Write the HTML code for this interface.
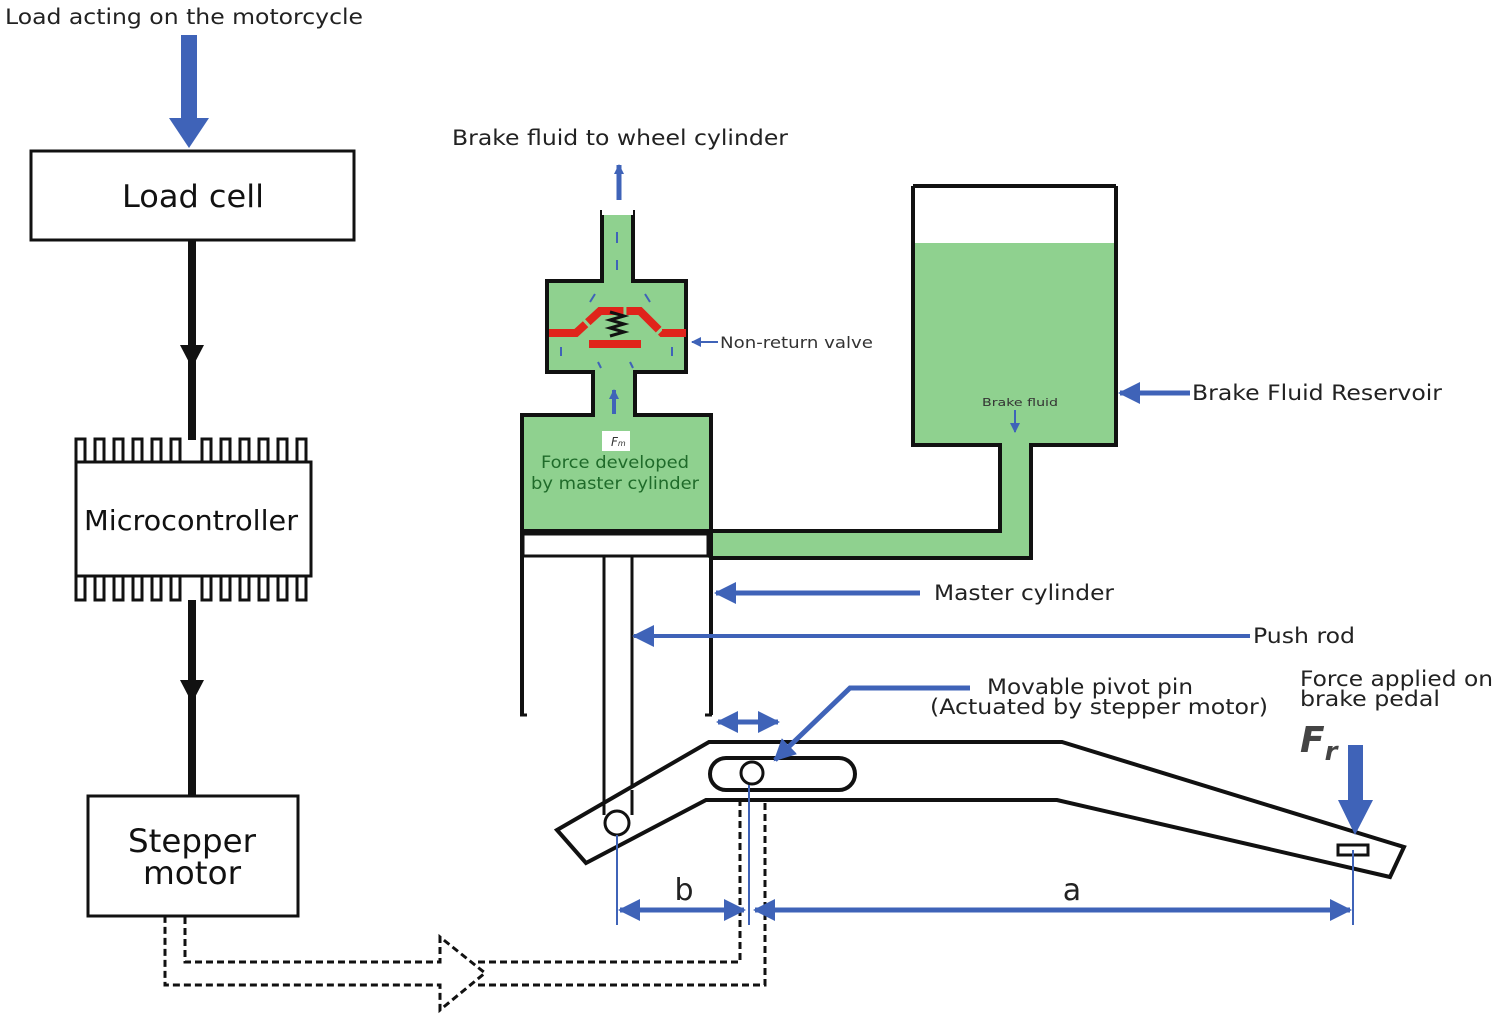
<!DOCTYPE html>
<html><head><meta charset="utf-8"><style>
html,body{margin:0;padding:0;background:#fff;}
svg{display:block;}
text{font-family:"DejaVu Sans","Liberation Sans",sans-serif;}
</style></head><body>
<svg width="1500" height="1018" viewBox="0 0 1500 1018" xmlns="http://www.w3.org/2000/svg">
<defs>
<marker id="ah" markerWidth="10" markerHeight="10" refX="9" refY="5" orient="auto" markerUnits="userSpaceOnUse"><path d="M0,0 L10,5 L0,10 z" fill="#3f63b8"/></marker>
<marker id="ahb" markerWidth="22" markerHeight="22" refX="20" refY="11" orient="auto" markerUnits="userSpaceOnUse"><path d="M0,0 L22,11 L0,22 z" fill="#3f63b8"/></marker>
<marker id="ahs" markerWidth="22" markerHeight="22" refX="2" refY="11" orient="auto" markerUnits="userSpaceOnUse"><path d="M22,0 L0,11 L22,22 z" fill="#3f63b8"/></marker>
</defs>
<!-- left column -->
<text x="5" y="24" font-size="21" fill="#222" textLength="358" lengthAdjust="spacingAndGlyphs">Load acting on the motorcycle</text>
<rect x="181" y="35" width="16" height="85" fill="#3f63b8"/>
<path d="M169,118 L209,118 L189,148 z" fill="#3f63b8"/>
<rect x="31" y="151" width="323" height="89" fill="#fff" stroke="#111" stroke-width="3"/>
<text x="122" y="207" font-size="31" fill="#111" textLength="142" lengthAdjust="spacingAndGlyphs">Load cell</text>
<line x1="192" y1="240" x2="192" y2="440" stroke="#111" stroke-width="8"/>
<path d="M180,345 L204,345 L192,368 z" fill="#111"/>
<g fill="#fff" stroke="#111" stroke-width="3">
<rect x="76" y="439" width="9" height="30"/><rect x="95" y="439" width="9" height="30"/><rect x="114" y="439" width="9" height="30"/><rect x="133" y="439" width="9" height="30"/><rect x="152" y="439" width="9" height="30"/><rect x="171" y="439" width="9" height="30"/><rect x="202" y="439" width="9" height="30"/><rect x="221" y="439" width="9" height="30"/><rect x="240" y="439" width="9" height="30"/><rect x="259" y="439" width="9" height="30"/><rect x="278" y="439" width="9" height="30"/><rect x="297" y="439" width="9" height="30"/>
<rect x="76" y="570" width="9" height="30"/><rect x="95" y="570" width="9" height="30"/><rect x="114" y="570" width="9" height="30"/><rect x="133" y="570" width="9" height="30"/><rect x="152" y="570" width="9" height="30"/><rect x="171" y="570" width="9" height="30"/><rect x="202" y="570" width="9" height="30"/><rect x="221" y="570" width="9" height="30"/><rect x="240" y="570" width="9" height="30"/><rect x="259" y="570" width="9" height="30"/><rect x="278" y="570" width="9" height="30"/><rect x="297" y="570" width="9" height="30"/>
<rect x="76" y="462" width="235" height="114"/>
</g>
<text x="84" y="530" font-size="28" fill="#111" textLength="214" lengthAdjust="spacingAndGlyphs">Microcontroller</text>
<line x1="192" y1="600" x2="192" y2="795" stroke="#111" stroke-width="8"/>
<path d="M180,680 L204,680 L192,703 z" fill="#111"/>
<rect x="88" y="796" width="210" height="120" fill="#fff" stroke="#111" stroke-width="3"/>
<text x="128" y="852" font-size="32" fill="#111" textLength="128" lengthAdjust="spacingAndGlyphs">Stepper</text>
<text x="143" y="884" font-size="32" fill="#111" textLength="98" lengthAdjust="spacingAndGlyphs">motor</text>
<!-- dashed hollow arrow -->
<g fill="none" stroke="#111" stroke-width="3" stroke-dasharray="7,4">
<path d="M185,917 L185,962 L440,962 L440,937 L485,973 L440,1010 L440,985 L165,985 L165,917"/>
<path d="M478,962 L740,962 L740,790"/>
<path d="M478,985 L765,985 L765,790"/>
</g>
<!-- reservoir and fluid -->
<rect x="913" y="243" width="203" height="202" fill="#8fd18f"/>
<rect x="1000" y="440" width="31" height="118" fill="#8fd18f"/>
<rect x="708" y="531" width="323" height="27" fill="#8fd18f"/>
<path d="M913,186 L913,445 L1000,445 L1000,531 L710,531 M1116,186 L1116,445 L1031,445 L1031,558 L710,558" fill="none" stroke="#111" stroke-width="4"/>
<line x1="913" y1="186" x2="1116" y2="186" stroke="#111" stroke-width="4"/>
<text x="982" y="406" font-size="11" fill="#333" textLength="76" lengthAdjust="spacingAndGlyphs">Brake fluid</text>
<line x1="1015" y1="410" x2="1015" y2="432" stroke="#3f63b8" stroke-width="2" marker-end="url(#ah)"/>
<!-- master/valve -->
<path d="M522,415 L593,415 L593,372 L547,372 L547,281 L602,281 L602,212 L633,212 L633,281 L686,281 L686,372 L635,372 L635,415 L711,415 L711,531 L522,531 z" fill="#8fd18f" stroke="#111" stroke-width="4"/>
<rect x="602" y="205" width="31" height="10" fill="#fff"/>
<rect x="523" y="534" width="185" height="22" fill="#fff" stroke="#111" stroke-width="3"/>
<line x1="522" y1="531" x2="522" y2="715" stroke="#111" stroke-width="4"/>
<line x1="711" y1="531" x2="711" y2="715" stroke="#111" stroke-width="4"/>
<line x1="520" y1="715" x2="527" y2="715" stroke="#111" stroke-width="3"/>
<line x1="705" y1="715" x2="712" y2="715" stroke="#111" stroke-width="3"/>
<rect x="604" y="556" width="28" height="270" fill="#fff" stroke="#111" stroke-width="3"/>
<!-- valve red -->
<path d="M549,333 L576,333 L600,311 L640,311 L662,333 L686,333" fill="none" stroke="#e0241b" stroke-width="8" stroke-dasharray="40,3"/>
<rect x="589" y="340" width="52" height="8" fill="#e0241b"/>
<path d="M610,312 l14,4 l-14,4 l14,4 l-14,4 l14,4 l-14,4" fill="none" stroke="#111" stroke-width="3"/>
<g stroke="#3f63b8" stroke-width="2">
<line x1="617" y1="270" x2="617" y2="260"/><line x1="617" y1="243" x2="617" y2="232"/>
<line x1="590" y1="302" x2="595" y2="294"/><line x1="645" y1="294" x2="650" y2="302"/>
<line x1="561" y1="347" x2="561" y2="356"/><line x1="672" y1="347" x2="672" y2="356"/>
<line x1="601" y1="368" x2="598" y2="362"/><line x1="630" y1="362" x2="633" y2="368"/>
</g>
<line x1="614" y1="414" x2="614" y2="390" stroke="#3f63b8" stroke-width="4" marker-end="url(#ah)"/>
<rect x="602" y="431" width="28" height="20" fill="#fff"/>
<text x="611" y="446" font-size="12" font-style="italic" font-family="Liberation Serif,serif" fill="#333">F<tspan font-size="8">m</tspan></text>
<text x="541" y="468" font-size="17" fill="#1f6b2a" textLength="148" lengthAdjust="spacingAndGlyphs">Force developed</text>
<text x="531" y="489" font-size="17" fill="#1f6b2a" textLength="168" lengthAdjust="spacingAndGlyphs">by master cylinder</text>
<line x1="619" y1="200" x2="619" y2="165" stroke="#3f63b8" stroke-width="5" marker-end="url(#ah)"/>
<text x="452" y="145" font-size="21" fill="#222" textLength="336" lengthAdjust="spacingAndGlyphs">Brake fluid to wheel cylinder</text>
<line x1="718" y1="342" x2="692" y2="342" stroke="#3f63b8" stroke-width="2" marker-end="url(#ah)"/>
<text x="720" y="348" font-size="16" fill="#333" textLength="153" lengthAdjust="spacingAndGlyphs">Non-return valve</text>
<line x1="1190" y1="393" x2="1120" y2="393" stroke="#3f63b8" stroke-width="5" marker-end="url(#ahb)"/>
<text x="1192" y="400" font-size="21" fill="#222" textLength="250" lengthAdjust="spacingAndGlyphs">Brake Fluid Reservoir</text>
<line x1="920" y1="593" x2="716" y2="593" stroke="#3f63b8" stroke-width="5" marker-end="url(#ahb)"/>
<text x="934" y="600" font-size="21" fill="#222" textLength="180" lengthAdjust="spacingAndGlyphs">Master cylinder</text>
<line x1="1250" y1="636" x2="634" y2="636" stroke="#3f63b8" stroke-width="4" marker-end="url(#ahb)"/>
<text x="1253" y="643" font-size="21" fill="#222" textLength="102" lengthAdjust="spacingAndGlyphs">Push rod</text>
<!-- pedal -->
<path d="M557,830 L709,742 L1062,742 L1404,847 L1390,877 L1057,800 L706,800 L586,863 z" fill="#fff" stroke="#111" stroke-width="4"/>
<line x1="604" y1="790" x2="604" y2="815" stroke="#111" stroke-width="3"/>
<line x1="632" y1="790" x2="632" y2="815" stroke="#111" stroke-width="3"/>
<rect x="710" y="758" width="145" height="32" rx="16" fill="#fff" stroke="#111" stroke-width="4"/>
<circle cx="617" cy="823" r="12" fill="#fff" stroke="#111" stroke-width="3"/>
<circle cx="752" cy="773" r="11" fill="#fff" stroke="#111" stroke-width="3"/>
<rect x="1338" y="845" width="30" height="10" fill="#fff" stroke="#111" stroke-width="3"/>
<line x1="718" y1="722" x2="778" y2="722" stroke="#3f63b8" stroke-width="5" marker-end="url(#ahb)" marker-start="url(#ahs)"/>
<polyline points="970,688 850,688 775,760" fill="none" stroke="#3f63b8" stroke-width="5" marker-end="url(#ahb)"/>
<text x="987" y="694" font-size="21" fill="#222" textLength="206" lengthAdjust="spacingAndGlyphs">Movable pivot pin</text>
<text x="930" y="714" font-size="21" fill="#222" textLength="338" lengthAdjust="spacingAndGlyphs">(Actuated by stepper motor)</text>
<text x="1300" y="686" font-size="21" fill="#222" textLength="193" lengthAdjust="spacingAndGlyphs">Force applied on</text>
<text x="1300" y="706" font-size="21" fill="#222" textLength="140" lengthAdjust="spacingAndGlyphs">brake pedal</text>
<text x="1300" y="752" font-size="36" font-style="italic" font-weight="bold" font-family="Liberation Serif,serif" fill="#444">F<tspan font-size="26" dy="8">r</tspan></text>
<rect x="1348" y="745" width="15" height="60" fill="#3f63b8"/>
<path d="M1338,800 L1373,800 L1355,835 z" fill="#3f63b8"/>
<!-- dimensions -->
<g stroke="#3f63b8" stroke-width="2">
<line x1="617" y1="835" x2="617" y2="925"/>
<line x1="749" y1="785" x2="749" y2="925"/>
<line x1="1353" y1="850" x2="1353" y2="925"/>
</g>
<line x1="620" y1="910" x2="744" y2="910" stroke="#3f63b8" stroke-width="5" marker-end="url(#ahb)" marker-start="url(#ahs)"/>
<line x1="755" y1="910" x2="1350" y2="910" stroke="#3f63b8" stroke-width="5" marker-end="url(#ahb)" marker-start="url(#ahs)"/>
<text x="684" y="900" font-size="30" text-anchor="middle" fill="#222">b</text>
<text x="1072" y="900" font-size="30" text-anchor="middle" fill="#222">a</text>
</svg>
</body></html>
